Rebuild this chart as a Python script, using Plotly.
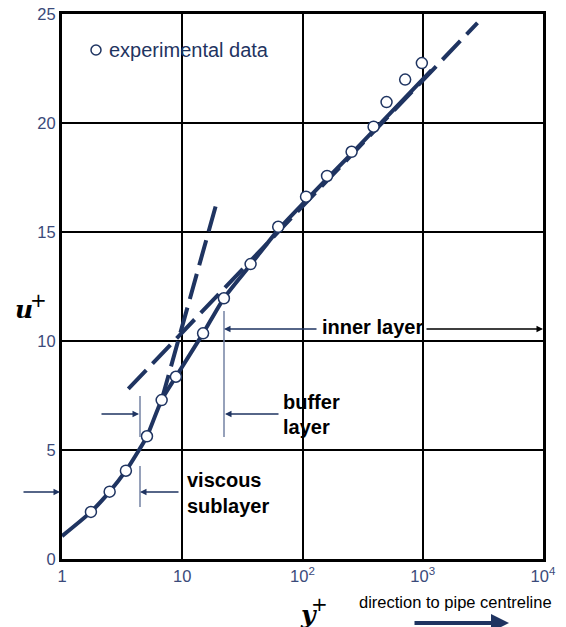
import plotly.graph_objects as go

# ---- data ----
exp_x = [1.74, 2.49, 3.40, 5.09, 6.74, 8.86, 14.9, 22.2, 37.0, 62.8, 107, 160, 256, 390, 500, 714, 983]
exp_u = [2.16, 3.09, 4.05, 5.63, 7.29, 8.36, 10.35, 11.96, 13.53, 15.24, 16.62, 17.57, 18.68, 19.83, 20.96, 21.99, 22.75]

curve_x = [1.0, 1.74, 2.49, 3.40, 4.37, 5.09, 6.74, 8.86, 14.9, 22.2, 37.0, 62.8, 107, 256, 1183]
curve_u = [1.05, 2.16, 3.09, 4.05, 5.0, 5.63, 7.29, 8.36, 10.35, 11.96, 13.5, 15.1, 16.45, 18.6, 22.42]

loglaw_x = [3.56, 2853]
loglaw_u = [7.8, 24.59]

linear_x = [6.74, 19.4]
linear_u = [7.29, 16.38]

x_tickvals = [1, 10, 100, 1000, 10000]
x_ticktext = ["1", "10", "10<sup>2</sup>", "10<sup>3</sup>", "10<sup>4</sup>"]
y_tickvals = [0, 5, 10, 15, 20, 25]

NAVY = "#1f3461"
TICK = "#3b4a7a"
THIN = "#7382a3"

# the page body adds an 8px offset; geometry below is in screen pixels
OFF = 8
SW, SH = 566, 627
PX0, PX1, PY0, PY1 = 62, 543, 14, 559   # plot area in screen pixels
W, H = SW - OFF, SH - OFF
L, T = PX0 - OFF, PY0 - OFF
R, B = W - (PX1 - OFF), H - (PY1 - OFF)
PW, PH = PX1 - PX0, PY1 - PY0


def P(px, py):
    return (px - PX0) / PW, (PY1 - py) / PH


fig = go.Figure()
fig.add_trace(go.Scatter(x=loglaw_x, y=loglaw_u, mode="lines",
                         line=dict(color=NAVY, width=4, dash="26px,9px"), showlegend=False))
fig.add_trace(go.Scatter(x=linear_x, y=linear_u, mode="lines",
                         line=dict(color=NAVY, width=4, dash="26px,9px"), showlegend=False))
fig.add_trace(go.Scatter(x=curve_x, y=curve_u, mode="lines",
                         line=dict(color=NAVY, width=4, shape="spline", smoothing=0.7), showlegend=False))
fig.add_trace(go.Scatter(x=exp_x, y=exp_u, mode="markers", name="experimental data",
                         marker=dict(symbol="circle", size=11, color="white",
                                     line=dict(color=NAVY, width=1.5)), showlegend=False))

ann = []
shapes = []


def arrow(tail, head, color=NAVY, width=1.3, headsize=1.0, style=2):
    hx, hy = P(*head)
    ann.append(dict(x=hx, y=hy, xref="paper", yref="paper", text="", showarrow=True,
                    ax=tail[0] - head[0], ay=tail[1] - head[1], axref="pixel", ayref="pixel",
                    arrowhead=style, arrowsize=headsize, arrowwidth=width, arrowcolor=color,
                    standoff=0, startstandoff=0))


def text(px, py, s, size=20, bold=True, color="black", xanchor="left", family="Liberation Sans, Arial",
         italic=False):
    x, y = P(px, py)
    if bold:
        s = f"<b>{s}</b>"
    if italic:
        s = f"<i>{s}</i>"
    ann.append(dict(x=x, y=y, xref="paper", yref="paper", showarrow=False,
                    text=s, xanchor=xanchor, yanchor="middle",
                    font=dict(size=size, color=color, family=family)))


def vline(px, py0, py1):
    x, y0 = P(px, py0)
    _, y1 = P(px, py1)
    shapes.append(dict(type="line", xref="paper", yref="paper", x0=x, x1=x, y0=y0, y1=y1,
                       line=dict(color=THIN, width=1.5)))


# legend-like label
lx, ly = P(96, 50)
shapes.append(dict(type="circle", xref="paper", yref="paper", xsizemode="pixel", ysizemode="pixel",
                   xanchor=lx, yanchor=ly, x0=-5, x1=5, y0=-5, y1=5,
                   line=dict(color=NAVY, width=1.5), fillcolor="white"))
text(107, 50, "experimental data", size=20, bold=False, color=NAVY)

# inner layer
text(372, 327, "inner layer", xanchor="center")
arrow((318, 329), (224, 329))
arrow((425, 329), (543, 329), color="black")
vline(224, 311, 437)

# buffer layer
text(281, 402, "buffer")
text(281, 427, "layer")
arrow((280, 414), (225, 414))
arrow((100, 414), (139, 414))
vline(140, 396, 437)

# viscous sublayer
text(185, 480, "viscous")
text(185, 506, "sublayer")
arrow((180, 492), (140, 492))
arrow((22, 492), (60, 492))
vline(140, 466, 507)

# direction to pipe centreline
text(455, 602, "direction to pipe centreline", size=16.5, bold=False, xanchor="center")
arrow((413, 623), (509, 623), width=4, headsize=0.9, style=2)

# axis titles (letter + superscript plus sign)
SERIF = "DejaVu Serif, Liberation Serif"
text(24, 309, "u", size=25, bold=True, italic=True, family=SERIF, xanchor="center")
text(38.5, 300, "+", size=20, bold=False, family="DejaVu Sans", xanchor="center")
text(308, 614, "y", size=25, bold=True, italic=True, family=SERIF, xanchor="center")
text(319, 604, "+", size=20, bold=False, family="DejaVu Sans", xanchor="center")

fig.update_layout(
    width=W, height=H,
    margin=dict(l=L, r=R, t=T, b=B, pad=0, autoexpand=False),
    paper_bgcolor="white", plot_bgcolor="white",
    annotations=ann, shapes=shapes, showlegend=False,
    xaxis=dict(type="log", range=[0, 4], tickvals=x_tickvals, ticktext=x_ticktext,
               showgrid=True, gridcolor="black", gridwidth=1.5, automargin=False,
               showline=True, linecolor="black", linewidth=3, mirror=True,
               ticks="", ticklabeloverflow="allow",
               tickfont=dict(size=16.5, color=TICK, family="Liberation Sans, Arial"),
               zeroline=False),
    yaxis=dict(range=[0, 25], tickvals=y_tickvals, automargin=False,
               showgrid=True, gridcolor="black", gridwidth=1.5,
               showline=True, linecolor="black", linewidth=3, mirror=True,
               ticks="", ticklabeloverflow="allow",
               tickfont=dict(size=16.5, color=TICK, family="Liberation Sans, Arial"),
               zeroline=False),
)

fig.write_html("out.html")
